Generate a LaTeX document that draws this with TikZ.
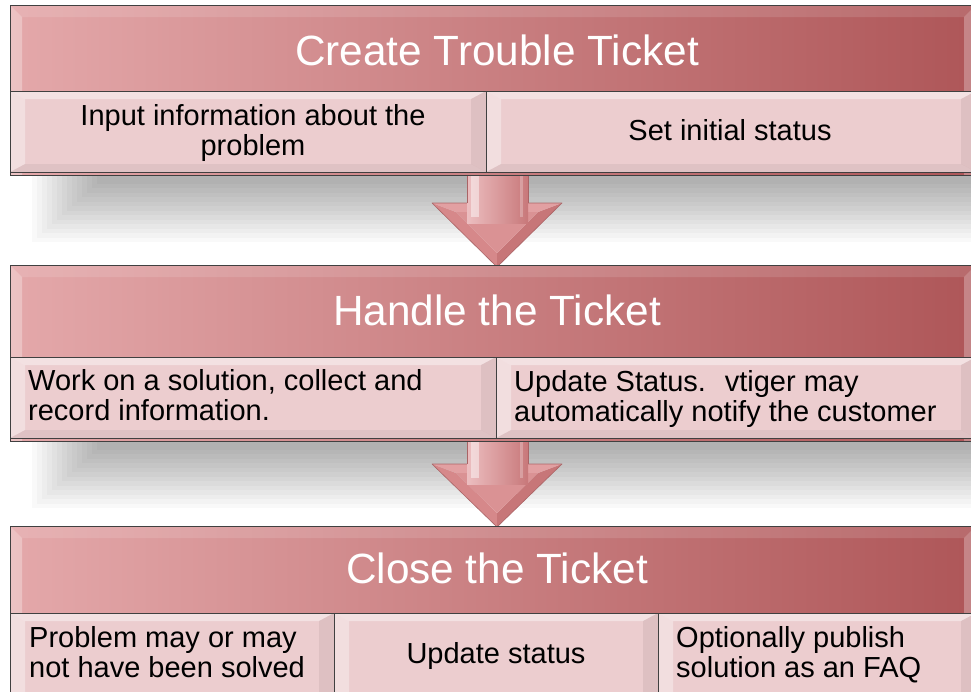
\documentclass[tikz,border=0pt]{standalone}
\usepackage{fontspec}
\setmainfont{Liberation Sans}
\definecolor{hdrL}{RGB}{228,168,170}
\definecolor{hdrM}{RGB}{222,154,156}
\definecolor{hdrR}{RGB}{174,86,88}
\definecolor{subfill}{RGB}{236,205,207}
\definecolor{edgegray}{RGB}{64,64,64}
\definecolor{arL}{RGB}{236,190,192}
\definecolor{arM}{RGB}{218,144,146}
\definecolor{arR}{RGB}{200,120,122}
\definecolor{arTop}{RGB}{226,160,162}
\definecolor{arLeft}{RGB}{214,136,138}
\definecolor{arRight}{RGB}{199,118,120}
\definecolor{arIn}{RGB}{218,146,148}
\definecolor{arEdge}{RGB}{170,100,102}
\newcommand\hpanel[3]{%
  \node[hdrbox, minimum width=966pt, minimum height={(#3-#2)*1pt}, anchor=north west] (#1) at (10,#2) {};
  \fill[white, opacity=.30] (10,#2) -- (22,#2+12) -- (22,#3) -- (10,#3) -- cycle;
  \fill[white, opacity=.12] (10,#2) -- (976,#2) -- (964,#2+12) -- (22,#2+12) -- cycle;
  \fill[white, opacity=.28] (976,#2) -- (976,#3) -- (964,#3) -- (964,#2+12) -- cycle;
  \draw[edge] (10,#2) rectangle (976,#3);
}
\newcommand\spanel[5]{%
  \node[subbox, minimum width={(#4-#2)*1pt}, minimum height={(#5-#3)*1pt}, anchor=north west] (#1) at (#2,#3) {};
  \fill[white, opacity=.35] (#2,#3) -- (#2+15,#3+8) -- (#2+15,#5-8) -- (#2,#5) -- cycle;
  \fill[white, opacity=.40] (#2,#3) -- (#4,#3) -- (#4-15,#3+8) -- (#2+15,#3+8) -- cycle;
  \fill[black, opacity=.06] (#4,#3) -- (#4,#5) -- (#4-15,#5-8) -- (#4-15,#3+8) -- cycle;
  \fill[black, opacity=.05] (#2,#5) -- (#4,#5) -- (#4-15,#5-8) -- (#2+15,#5-8) -- cycle;
  \draw[edge] (#2,#3) rectangle (#4,#5);
}
\newcommand\shadowband[1]{%
  \foreach \k in {0,...,13}{
    \fill[black, opacity=.022] (32+\k*5,#1) rectangle (990,#1+70-\k*4.5);
  }
}
\newcommand\blockarrow[4]{% name, shaft top, head top, tip
  \coordinate (#1s) at (497.5,#2);
  \coordinate (#1t) at (497,#4);
  \fill[arLeft] (432,#3) -- (456,#3+9) -- (497,#4-14) -- (#1t) -- cycle;
  \fill[arRight] (562,#3) -- (538,#3+9) -- (497,#4-14) -- (#1t) -- cycle;
  \fill[arTop] (432,#3) -- (562,#3) -- (538,#3+9) -- (456,#3+9) -- cycle;
  \fill[arIn] (456,#3+9) -- (538,#3+9) -- (497,#4-14) -- cycle;
  \draw[arEdge, line width=.6pt, line join=round] (432,#3) -- (562,#3) -- (#1t) -- cycle;
  \shade[left color=arL, middle color=arM, right color=arR] (467,#2) rectangle (528,#3+20);
  \fill[white, opacity=.45] (471,#2) rectangle (479,#3+14);
  \fill[white, opacity=.25] (520,#2) rectangle (523,#3+14);
  \draw[arEdge, line width=.6pt] (467,#3) -- (467,#2) (528,#2) -- (528,#3);
}
\begin{document}
\begin{tikzpicture}[x=1pt,y=-1pt,
  hdrbox/.style={rectangle, inner sep=0pt, outer sep=0pt, left color=hdrL, middle color=hdrM, right color=hdrR},
  subbox/.style={rectangle, inner sep=0pt, outer sep=0pt, fill=subfill},
  edge/.style={draw=edgegray, line width=1pt},
  hdrtext/.style={text=white, font=\fontsize{42.3}{50}\selectfont, inner sep=0pt},
  subtext/.style={text=black, font=\fontsize{29}{30}\selectfont, inner sep=0pt},
]
\useasboundingbox (0,0) rectangle (971,691);
\fill[white] (0,0) rectangle (971,691);

% shadows
\shadowband{172}
\shadowband{438}

% arrows
\blockarrow{A1}{172}{203}{267}
\blockarrow{A2}{438}{464}{527}

% section 1
\hpanel{H1}{5}{175}
\spanel{S1a}{10}{91}{486}{172}
\spanel{S1b}{486}{91}{976}{172}
\node[hdrtext, anchor=base] (T1) at (497,65) {Create Trouble Ticket};
\node[subtext, anchor=base, align=center] (T1a) at (253,155) {Input information about the\\problem};
\node[subtext, anchor=base] (T1b) at (730,140) {Set initial status};

% section 2
\hpanel{H2}{265}{441}
\spanel{S2a}{10}{357}{496}{438}
\spanel{S2b}{496}{357}{976}{438}
\node[hdrtext, anchor=base] (T2) at (497,325) {Handle the Ticket};
\node[subtext, anchor=base west, align=left] (T2a) at (28,420) {Work on a solution, collect and\\record information.};
\node[subtext, anchor=base west, align=left] (T2b) at (514,421) {Update Status.~ vtiger may\\automatically notify the customer};

% section 3
\hpanel{H3}{526}{700}
\spanel{S3a}{10}{613}{334}{700}
\spanel{S3b}{334}{613}{658}{700}
\spanel{S3c}{658}{613}{976}{700}
\node[hdrtext, anchor=base] (T3) at (497,583) {Close the Ticket};
\node[subtext, anchor=base west, align=left] (T3a) at (29,677) {Problem may or may\\not have been solved};
\node[subtext, anchor=base] (T3b) at (496,663) {Update status};
\node[subtext, anchor=base west, align=left] (T3c) at (676,677) {Optionally publish\\solution as an FAQ};
\end{tikzpicture}
\end{document}
